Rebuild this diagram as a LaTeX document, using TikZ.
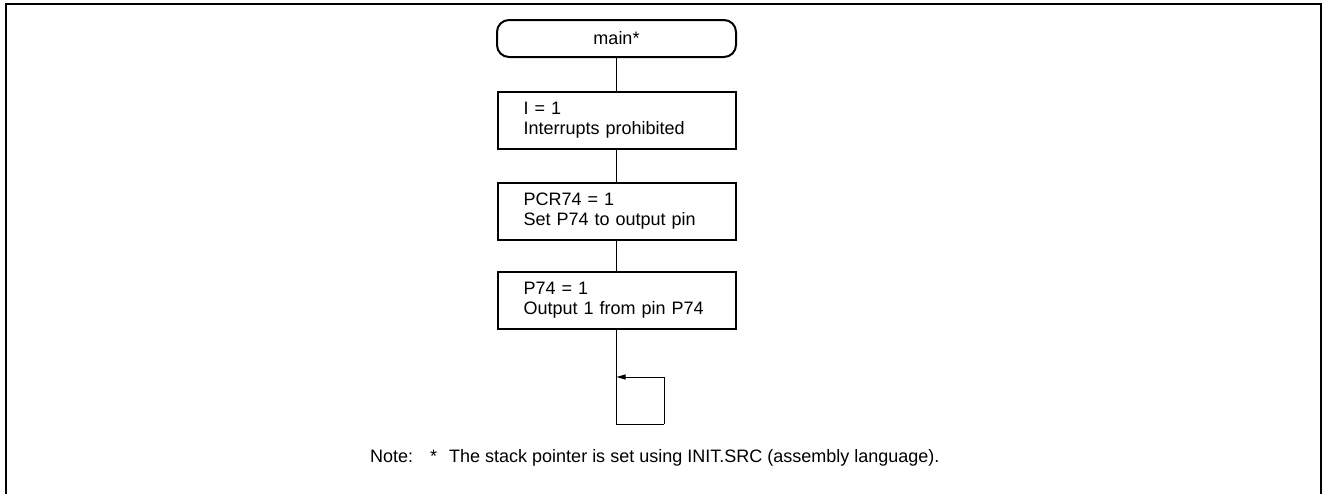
\documentclass[tikz,border=0pt]{standalone}
\usepackage{fontspec}
\setmainfont{Liberation Sans}
\usetikzlibrary{arrows.meta}
\begin{document}
\begin{tikzpicture}[x=1pt,y=-1pt,
  every node/.style={font=\fontsize{18}{20}\selectfont},
  frameline/.style={line width=2pt},
  stepbox/.style={draw, line width=2pt, minimum height=57pt,
    text width=186pt, inner xsep=26pt, inner ysep=0pt, align=left},
  terminal/.style={draw, line width=2pt, rounded corners=12pt,
    minimum width=239pt, minimum height=37pt, inner sep=0pt},
  link/.style={line width=1pt},
  loopback/.style={line width=1pt, -{Triangle[length=9pt,width=5pt]}},
  notetext/.style={anchor=base west, inner sep=0pt}]
  \useasboundingbox (0,0) rectangle (1322,493);

  % open frame (no bottom edge)
  \draw[frameline] (6,494) -- (6,4) -- (1321,4) -- (1321,494);

  % flowchart
  \node[terminal] (start) at (616.5,38.5) {main*};
  \node[stepbox] (s1) at (616.5,120.5) {I = 1\\Interrupts prohibited};
  \node[stepbox] (s2) at (616.5,211) {PCR74 = 1\\Set P74 to output pin};
  \node[stepbox] (s3) at (616.5,300) {P74 = 1\\Output 1 from pin P74};

  \draw[link] (start) -- (s1);
  \draw[link] (s1) -- (s2);
  \draw[link] (s2) -- (s3);

  % endless loop
  \coordinate (lbot) at (616.5,424);
  \coordinate (lcorner) at (664,424);
  \coordinate (lentry) at (616.5,377);
  \draw[link] (s3.south) -- (lbot) -- (lcorner);
  \draw[loopback] (lcorner) |- (lentry);

  % footnote
  \node[notetext] (note) at (370,462) {Note:};
  \node[notetext] (star) at (430,462) {*};
  \node[notetext] (notebody) at (449,462) {The stack pointer is set using INIT.SRC (assembly language).};
\end{tikzpicture}
\end{document}
